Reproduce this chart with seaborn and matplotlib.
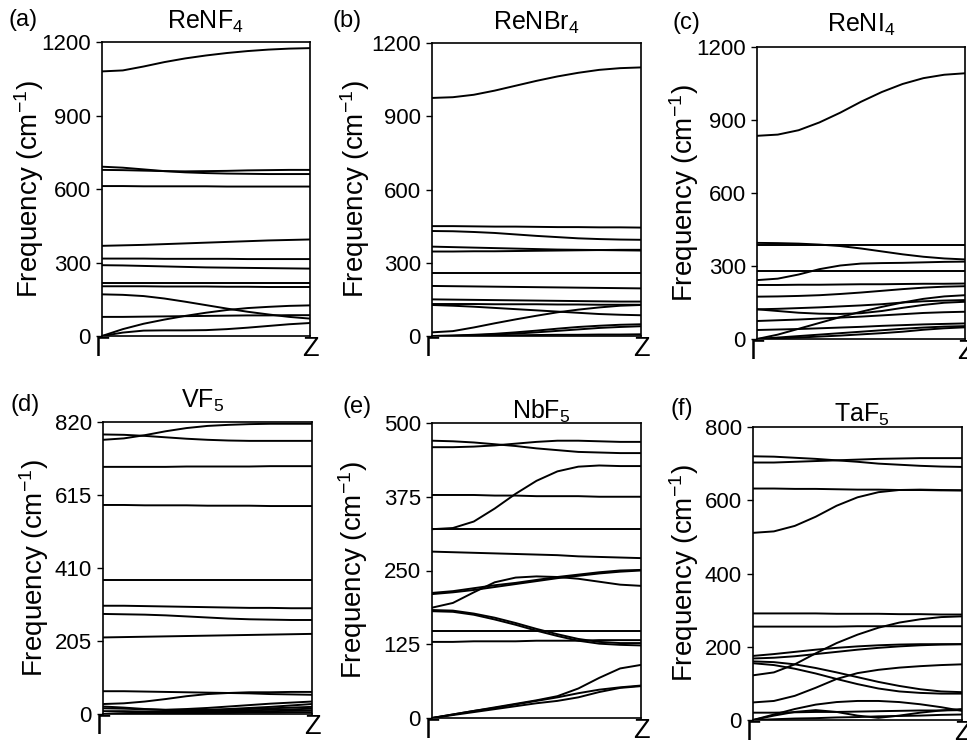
import matplotlib
matplotlib.use("Agg")
import matplotlib.pyplot as plt
import pandas as pd
import seaborn as sns

# Reciprocal-space path, sampled at equal steps from Gamma to Z
K_POINTS = [0.0, 0.1, 0.2, 0.3, 0.4, 0.5, 0.6, 0.7, 0.8, 0.9, 1.0]
K_LABELS = ["Γ", "Z"]

# Phonon branches (cm^-1) for each compound, one list per branch
RENF4_TICKS = [0, 300, 600, 900, 1200]
RENF4_BANDS = [
    [1080, 1084, 1100, 1118, 1133, 1145, 1155, 1163, 1169, 1173, 1175],
    [691, 687, 680, 673, 668, 665, 663, 662, 661, 661, 661],
    [678, 677, 675, 673, 672, 673, 674, 676, 677, 678, 678],
    [612, 612, 611, 611, 611, 611, 610, 610, 610, 610, 610],
    [368, 370, 372, 375, 378, 381, 384, 387, 390, 392, 394],
    [316, 316, 316, 315, 315, 315, 315, 314, 314, 314, 314],
    [289, 288, 286, 284, 282, 280, 279, 278, 277, 276, 275],
    [218, 218, 218, 218, 218, 218, 218, 218, 218, 218, 218],
    [203, 203, 203, 202, 202, 202, 201, 201, 200, 200, 200],
    [170, 168, 163, 153, 140, 126, 112, 99, 88, 78, 71],
    [78, 78, 79, 80, 81, 82, 83, 84, 84, 85, 85],
    [0, 28, 50, 67, 82, 95, 106, 114, 119, 123, 125],
    [0, 14, 22, 23, 23, 24, 28, 34, 41, 48, 53],
]

RENBR4_TICKS = [0, 300, 600, 900, 1200]
RENBR4_BANDS = [
    [975, 978, 988, 1005, 1025, 1045, 1063, 1078, 1090, 1097, 1100],
    [450, 450, 449, 448, 448, 447, 446, 446, 445, 445, 444],
    [430, 429, 426, 422, 416, 410, 405, 400, 397, 395, 394],
    [366, 364, 362, 360, 358, 356, 354, 353, 352, 351, 350],
    [346, 346, 347, 347, 348, 349, 350, 351, 352, 353, 353],
    [260, 260, 260, 260, 260, 260, 260, 260, 260, 260, 260],
    [205, 204, 203, 202, 201, 200, 199, 198, 197, 196, 195],
    [150, 149, 148, 147, 146, 145, 144, 143, 142, 141, 141],
    [131, 131, 131, 130, 130, 130, 129, 129, 128, 128, 128],
    [127, 124, 120, 115, 110, 105, 100, 95, 90, 87, 85],
    [15, 20, 35, 52, 68, 83, 97, 108, 117, 124, 127],
    [0, 2, 5, 9, 15, 22, 30, 37, 42, 46, 48],
    [0, 1, 3, 6, 10, 15, 21, 27, 33, 37, 40],
    [0, 0, 1, 2, 3, 4, 5, 5, 6, 6, 7],
]

RENI4_TICKS = [0, 300, 600, 900, 1200]
RENI4_BANDS = [
    [835, 840, 858, 890, 930, 975, 1015, 1048, 1072, 1086, 1092],
    [395, 394, 392, 388, 382, 372, 360, 348, 338, 331, 327],
    [386, 386, 386, 386, 386, 386, 386, 386, 386, 386, 386],
    [242, 248, 265, 287, 302, 310, 312, 313, 315, 317, 318],
    [280, 280, 280, 280, 280, 280, 280, 280, 280, 280, 280],
    [222, 222, 223, 223, 224, 225, 225, 226, 227, 227, 228],
    [174, 175, 177, 180, 185, 191, 198, 205, 211, 215, 217],
    [122, 115, 108, 104, 103, 106, 115, 128, 140, 149, 153],
    [122, 124, 127, 130, 134, 138, 143, 150, 155, 158, 160],
    [0, 18, 42, 66, 90, 112, 132, 150, 165, 175, 180],
    [74, 77, 80, 84, 88, 92, 97, 102, 107, 110, 112],
    [37, 39, 41, 44, 47, 50, 54, 57, 60, 62, 64],
    [0, 6, 12, 18, 24, 30, 36, 42, 47, 51, 53],
    [0, 3, 6, 10, 14, 19, 24, 30, 38, 44, 48],
]

VF5_TICKS = [0, 205, 410, 615, 820]
VF5_BANDS = [
    [770, 774, 783, 794, 803, 809, 812, 814, 815, 815, 815],
    [785, 784, 781, 777, 773, 770, 768, 767, 767, 767, 767],
    [694, 694, 694, 694, 695, 695, 695, 695, 696, 696, 696],
    [587, 587, 586, 586, 586, 585, 585, 585, 584, 584, 584],
    [376, 376, 376, 376, 376, 376, 376, 376, 376, 376, 376],
    [304, 304, 303, 302, 301, 300, 299, 298, 298, 297, 297],
    [281, 280, 279, 277, 274, 271, 268, 266, 265, 264, 264],
    [215, 216, 217, 218, 219, 220, 221, 222, 223, 224, 225],
    [64, 64, 63, 62, 61, 60, 59, 58, 56, 55, 54],
    [28, 30, 35, 42, 50, 56, 59, 61, 61, 62, 62],
    [21, 18, 14, 12, 14, 17, 21, 25, 29, 32, 35],
    [16, 15, 13, 11, 11, 12, 14, 17, 20, 24, 28],
    [0, 2, 4, 6, 8, 10, 12, 14, 16, 18, 20],
    [0, 1, 3, 4, 6, 7, 9, 10, 12, 13, 15],
    [8, 8, 7, 6, 5, 5, 6, 7, 8, 9, 10],
    [0, 1, 1, 2, 2, 3, 3, 4, 4, 5, 5],
]

NBF5_TICKS = [0, 125, 250, 375, 500]
NBF5_BANDS = [
    [470, 469, 467, 464, 461, 457, 454, 451, 450, 449, 449],
    [459, 459, 460, 462, 465, 468, 470, 470, 469, 468, 468],
    [320, 322, 333, 355, 380, 402, 418, 426, 428, 427, 427],
    [378, 378, 378, 377, 377, 376, 376, 376, 375, 375, 375],
    [320, 320, 320, 320, 320, 320, 320, 320, 320, 320, 320],
    [282, 281, 280, 279, 278, 277, 276, 274, 273, 272, 271],
    [210, 213, 217, 222, 227, 232, 237, 241, 245, 248, 250],
    [212, 215, 220, 225, 229, 234, 239, 243, 247, 250, 251],
    [187, 195, 213, 230, 238, 240, 239, 236, 231, 226, 224],
    [181, 180, 175, 167, 158, 148, 139, 131, 126, 124, 123],
    [183, 182, 177, 170, 161, 151, 142, 134, 129, 127, 127],
    [147, 147, 147, 147, 147, 147, 147, 147, 147, 147, 147],
    [129, 129, 130, 130, 130, 131, 131, 131, 132, 132, 132],
    [0, 6, 12, 18, 24, 30, 37, 50, 68, 84, 90],
    [0, 6, 12, 17, 23, 29, 35, 42, 48, 52, 55],
    [0, 5, 10, 15, 20, 25, 29, 35, 44, 51, 54],
]

TAF5_TICKS = [0, 200, 400, 600, 800]
TAF5_BANDS = [
    [720, 719, 716, 713, 709, 705, 700, 697, 694, 692, 691],
    [703, 703, 705, 707, 709, 711, 713, 714, 715, 715, 715],
    [632, 632, 631, 631, 630, 629, 629, 628, 628, 627, 627],
    [511, 515, 530, 555, 585, 608, 622, 628, 629, 628, 627],
    [291, 291, 291, 291, 290, 290, 290, 289, 289, 288, 288],
    [255, 255, 255, 255, 255, 256, 256, 256, 256, 256, 256],
    [122, 130, 152, 182, 210, 233, 252, 266, 275, 281, 283],
    [175, 180, 186, 192, 197, 201, 204, 206, 207, 207, 207],
    [168, 170, 174, 180, 186, 192, 197, 201, 204, 206, 207],
    [160, 158, 152, 142, 130, 117, 104, 93, 84, 78, 76],
    [155, 150, 140, 127, 112, 98, 86, 78, 74, 72, 72],
    [48, 52, 66, 88, 112, 128, 137, 143, 147, 150, 152],
    [0, 15, 30, 42, 49, 52, 52, 49, 43, 35, 25],
    [20, 20, 21, 22, 22, 23, 24, 25, 26, 26, 27],
    [0, 12, 22, 27, 22, 12, 6, 12, 20, 26, 30],
    [0, 2, 4, 5, 7, 8, 10, 11, 12, 14, 15],
]

W, H = 967, 744

sns.set_style("ticks")
plt.rcParams["font.family"] = ["Liberation Sans", "DejaVu Sans"]
plt.rcParams["mathtext.fontset"] = "custom"
plt.rcParams["mathtext.rm"] = "Liberation Sans"
plt.rcParams["mathtext.it"] = "Liberation Sans:italic"
plt.rcParams["mathtext.bf"] = "Liberation Sans:bold"
for key in ("text.color", "axes.labelcolor", "xtick.color", "ytick.color", "axes.edgecolor"):
    plt.rcParams[key] = "black"

# layout: axes box (left, top, right, bottom) in pixels, label anchors in pixels
panels = [
    dict(letter="(a)", title="ReNF$_4$", bands=RENF4_BANDS, ticks=RENF4_TICKS,
         box=(102, 42, 310, 336), letter_xy=(9, 20), title_xy=(205, 22), ylab_x=-0.27),
    dict(letter="(b)", title="ReNBr$_4$", bands=RENBR4_BANDS, ticks=RENBR4_TICKS,
         box=(432, 43, 641, 336), letter_xy=(333, 21), title_xy=(536, 23), ylab_x=-0.285),
    dict(letter="(c)", title="ReNI$_4$", bands=RENI4_BANDS, ticks=RENI4_TICKS,
         box=(757, 47, 965, 339), letter_xy=(673, 23), title_xy=(861, 25), ylab_x=-0.27),
    dict(letter="(d)", title="VF$_5$", bands=VF5_BANDS, ticks=VF5_TICKS,
         box=(103, 422, 312, 714), letter_xy=(11, 405), title_xy=(203, 401), ylab_x=-0.25),
    dict(letter="(e)", title="NbF$_5$", bands=NBF5_BANDS, ticks=NBF5_TICKS,
         box=(432, 423, 641, 718), letter_xy=(343, 407), title_xy=(541, 411), ylab_x=-0.295),
    dict(letter="(f)", title="TaF$_5$", bands=TAF5_BANDS, ticks=TAF5_TICKS,
         box=(753, 427, 962, 720), letter_xy=(670, 409), title_xy=(862, 415), ylab_x=-0.25),
]

fig = plt.figure(figsize=(W / 100, H / 100), dpi=100)

for p in panels:
    l, t, r, b = p["box"]
    ax = fig.add_axes([l / W, 1 - b / H, (r - l) / W, (b - t) / H])
    rows = [(i, k, f) for i, band in enumerate(p["bands"]) for k, f in zip(K_POINTS, band)]
    df = pd.DataFrame(rows, columns=["band", "k", "freq"])
    sns.lineplot(data=df, x="k", y="freq", units="band", estimator=None,
                 color="black", lw=1.4, ax=ax, legend=False)
    ax.set_xlim(K_POINTS[0], K_POINTS[-1])
    ax.set_ylim(p["ticks"][0], p["ticks"][-1])
    ax.set_xticks([K_POINTS[0], K_POINTS[-1]])
    ax.set_xticklabels(K_LABELS)
    ax.set_yticks(p["ticks"])
    ax.tick_params(axis="x", length=0, pad=0, labelsize=19.5)
    ax.tick_params(axis="y", direction="out", length=4, width=1.0, pad=4, labelsize=16)
    ax.set_xlabel("")
    ax.set_ylabel("Frequency (cm$^{-1}$)", fontsize=20)
    ax.yaxis.set_label_coords(p["ylab_x"], 0.5)
    for s in ax.spines.values():
        s.set_linewidth(1.2)
        s.set_color("black")
    lx, ly = p["letter_xy"]
    fig.text(lx / W, 1 - ly / H, p["letter"], fontsize=17, ha="left", va="center")
    tx, ty = p["title_xy"]
    fig.text(tx / W, 1 - ty / H, p["title"], fontsize=18, ha="center", va="center")

fig.savefig("out.png", dpi=100)
